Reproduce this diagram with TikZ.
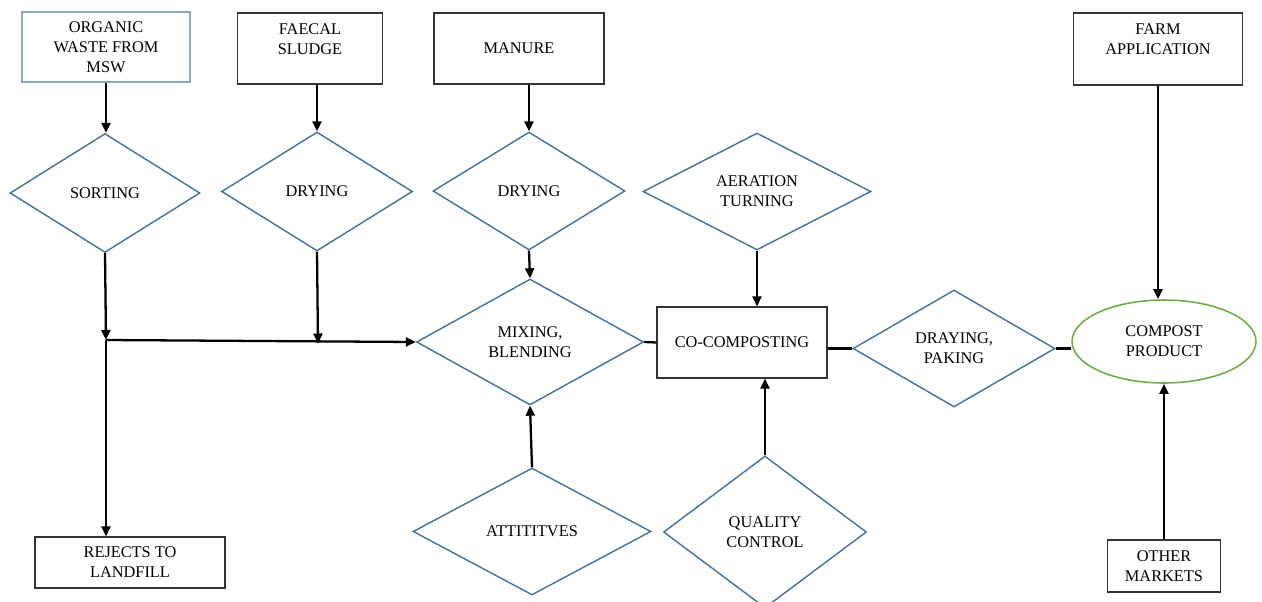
\documentclass[tikz,border=0pt]{standalone}
\usepackage{fontspec}
\setmainfont{Liberation Serif}
\usetikzlibrary{arrows.meta,positioning,calc,shapes.geometric}
\definecolor{diablue}{RGB}{65,113,156}
\definecolor{srcblue}{RGB}{140,170,190}
\definecolor{prodgreen}{RGB}{112,173,71}
\begin{document}
\begin{tikzpicture}[
  x=0.02cm, y=-0.02cm,
  >={Triangle[length=2mm,width=1.8mm]},
  every node/.style={font=\fontsize{9.3}{11.4}\selectfont, align=center},
  box/.style={rectangle, draw=black!80, line width=0.6pt, inner sep=1pt},
  dia/.style={diamond, draw=diablue, line width=0.8pt, inner sep=0pt, aspect=1.6},
  flow/.style={->, line width=1.3pt},
  link/.style={-, line width=1.3pt},
]
  \useasboundingbox (0,0) rectangle (1262,602);
  % Sources
  \node[box, draw=srcblue, minimum width=3.36cm, minimum height=1.4cm] (org) at (106,47) {ORGANIC\\WASTE FROM\\MSW};
  \node[box, minimum width=2.9cm, minimum height=1.42cm] (fae) at (310,48.5) {FAECAL\\SLUDGE\\[-4pt]\strut};
  \node[box, minimum width=3.4cm, minimum height=1.42cm] (man) at (519,48.5) {MANURE};
  \node[box, minimum width=3.38cm, minimum height=1.44cm] (farm) at (1158,49) {FARM\\APPLICATION\\[-4pt]\strut};
  % Treatment steps
  \node[dia, minimum width=3.8cm, minimum height=2.38cm] (sort) at (105,193) {SORTING};
  \node[dia, minimum width=3.82cm, minimum height=2.38cm] (dry1) at (317,191.5) {DRYING};
  \node[dia, minimum width=3.84cm, minimum height=2.36cm] (dry2) at (529,191) {DRYING};
  \node[dia, minimum width=4.56cm, minimum height=2.34cm] (aer) at (757,191.5) {AERATION\\TURNING};
  \node[dia, minimum width=4.54cm, minimum height=2.52cm] (mix) at (530,342) {MIXING,\\BLENDING};
  \node[box, minimum width=3.4cm, minimum height=1.42cm] (cocomp) at (742,342.5) {CO-COMPOSTING};
  \node[dia, minimum width=4.04cm, minimum height=2.34cm] (dray) at (954,348.5) {DRAYING,\\PAKING};
  \node[ellipse, draw=prodgreen, line width=0.9pt, minimum width=3.68cm, minimum height=1.66cm] (comp) at (1164,341.5) {COMPOST\\PRODUCT};
  \node[dia, minimum width=4.76cm, minimum height=2.54cm] (att) at (532,531.5) {ATTITITVES};
  \node[dia, minimum width=4.06cm, minimum height=3.04cm] (qual) at (765,532) {QUALITY\\CONTROL};
  % Outputs
  \node[box, minimum width=3.8cm, minimum height=1.02cm] (rej) at (130,562.5) {REJECTS TO\\LANDFILL};
  \node[box, minimum width=2.26cm, minimum height=1.04cm] (oth) at (1164,566) {OTHER\\MARKETS};
  % Junctions
  \coordinate (jA) at (106,340);
  \coordinate (jB) at (318,343.5);
  % Arrows
  \draw[flow] (org.south) -- (org.south |- sort.north);
  \draw[flow] (fae.south -| dry1.north) -- (dry1.north);
  \draw[flow] (man.south -| dry2.north) -- (dry2.north);
  \draw[flow] (sort.south) -- (jA);
  \draw[flow] (jA) -- (jA |- rej.north);
  \draw[flow] (jA) -- (mix.west);
  \draw[flow] (dry1.south) -- (jB);
  \draw[flow] (dry2.south) -- (mix.north);
  \draw[flow] (aer.south) -- (aer.south |- cocomp.north);
  \draw[flow] (att.north) -- (mix.south);
  \draw[flow] (qual.north) -- (qual.north |- cocomp.south);
  \draw[flow] (farm.south) -- (farm.south |- comp.north);
  \draw[flow] (oth.north) -- (comp.south);
  \draw[link] (mix.east) -- (cocomp.west);
  \draw[link] (cocomp.east |- dray.west) -- (dray.west);
  \draw[link] (dray.east) -- (dray.east -| comp.west);
\end{tikzpicture}
\end{document}
